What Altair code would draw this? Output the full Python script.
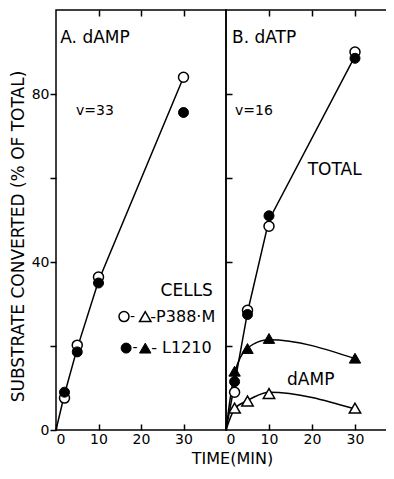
import altair as alt
import pandas as pd

# ---- data ----
time = [2, 5, 10, 30]
line_time = [0, 2, 5, 10, 30]

# Panel A: dAMP substrate
a_p388 = [7.6, 20.2, 36.4, 84.0]
a_l1210 = [9.0, 18.6, 35.0, 75.6]
a_fit = [0, 8.5, 19.5, 35.5, 84.0]

# Panel B: dATP substrate
b_total_p388 = [9.0, 28.5, 48.5, 90.0]
b_total_l1210 = [11.5, 27.5, 51.0, 88.5]
b_damp_p388 = [5.2, 6.9, 8.7, 5.2]
b_damp_l1210 = [14.0, 19.4, 21.8, 17.1]
b_total_fit = [0, 11.0, 28.0, 50.0, 89.0]
b_damp_l1210_fit = [0, 13.5, 19.5, 21.5, 17.0]
b_damp_p388_fit = [0, 5.0, 7.0, 9.0, 5.0]

x_ticks = [0, 10, 20, 30]
x_top_ticks = [10, 20, 30]
y_ticks = [0, 20, 40, 60, 80]
y_inner_ticks = [20, 40, 60, 80]

FONT = "DejaVu Sans"

xA = alt.Scale(domain=[0, 40], nice=False, zero=False)
xB = alt.Scale(domain=[0, 40], nice=False, zero=False)
yS = alt.Scale(domain=[0, 100], nice=False, zero=False)


def df(t, v):
    return pd.DataFrame({"t": t, "v": v})


def enc(chart, xs, xaxis=None, yaxis=None):
    return chart.encode(
        x=alt.X("t:Q", scale=xs, axis=xaxis),
        y=alt.Y("v:Q", scale=yS, axis=yaxis),
    )


def line(t, v, xs, interp="linear", xaxis=None, yaxis=None):
    c = alt.Chart(df(t, v)).mark_line(color="black", strokeWidth=1.5, interpolate=interp)
    return enc(c, xs, xaxis, yaxis)


def marker(t, v, xs, shape, solid, xaxis=None, yaxis=None, size=100):
    if solid:
        m = alt.Chart(df(t, v)).mark_point(shape=shape, filled=True, fill="black",
                                            stroke="black", strokeWidth=1, size=size, opacity=1)
    else:
        m = alt.Chart(df(t, v)).mark_point(shape=shape, filled=True, fill="white",
                                            stroke="black", strokeWidth=1.5, size=size, opacity=1)
    return enc(m, xs, xaxis, yaxis)


def text(t, v, label, xs, size):
    d = pd.DataFrame({"t": [t], "v": [v], "label": [label]})
    c = alt.Chart(d).mark_text(align="left", baseline="middle", font=FONT,
                               fontSize=size, color="black")
    return c.encode(
        x=alt.X("t:Q", scale=xs, axis=None),
        y=alt.Y("v:Q", scale=yS, axis=None),
        text="label:N",
    )


TRI = 130

# ---- axes ----
bottom_A = alt.Axis(orient="bottom", values=x_ticks, tickSize=6, offset=-6, domain=False,
                    labelPadding=2, title=None, format="d")
top_any = alt.Axis(orient="top", values=x_top_ticks, tickSize=6, offset=-6, domain=False,
                   labels=False, title=None)
left_A = alt.Axis(orient="left", values=y_ticks, tickSize=6, domain=False,
                  labelExpr="datum.value % 40 == 0 ? datum.label : ''",
                  labelPadding=1, title="SUBSTRATE CONVERTED (% OF TOTAL)",
                  titleY=226, titlePadding=4)
bottom_B = alt.Axis(orient="bottom", values=x_ticks, tickSize=6, offset=-6, domain=False,
                    labelPadding=2, title="TIME(MIN)", titleX=6, titlePadding=4,
                    titleFontSize=16, format="d")
left_B = alt.Axis(orient="left", values=y_inner_ticks, tickSize=6, offset=-6, domain=False,
                  labels=False, title=None)
right_B = alt.Axis(orient="right", values=y_inner_ticks, tickSize=6, offset=-6, domain=False,
                   labels=False, title=None)

H = 420

# ---- panel A ----
panel_A = alt.layer(
    line(line_time, a_fit, xA, xaxis=bottom_A, yaxis=left_A),
    marker(time, a_p388, xA, "circle", False, xaxis=top_any),
    marker(time, a_l1210, xA, "circle", True),
    text(1.0, 93.4, "A. dAMP", xA, 17),
    text(4.7, 76.0, "v=33", xA, 14),
    text(24.6, 33.0, "CELLS", xA, 17),
    marker([16.0], [27.0], xA, "circle", False),
    text(17.4, 27.0, "-", xA, 14),
    marker([21.0], [27.0], xA, "triangle-up", False, size=TRI),
    text(22.2, 27.0, "-P388·M", xA, 16),
    marker([16.5], [19.5], xA, "circle", True),
    text(18.0, 19.5, "-", xA, 14),
    marker([21.0], [19.5], xA, "triangle-up", True, size=TRI),
    text(22.4, 19.5, "- L1210", xA, 16),
).resolve_axis(x="independent", y="independent").properties(width=170, height=H)

# ---- panel B ----
panel_B = alt.layer(
    line(line_time, b_total_fit, xB, xaxis=bottom_B, yaxis=left_B),
    line(line_time, b_damp_l1210_fit, xB, interp="monotone", xaxis=top_any, yaxis=right_B),
    line(line_time, b_damp_p388_fit, xB, interp="monotone"),
    marker(time, b_total_p388, xB, "circle", False),
    marker(time, b_total_l1210, xB, "circle", True),
    marker(time, b_damp_p388, xB, "triangle-up", False, size=TRI),
    marker(time, b_damp_l1210, xB, "triangle-up", True, size=TRI),
    text(1.4, 93.4, "B. dATP", xB, 17),
    text(2.1, 76.0, "v=16", xB, 14),
    text(19.0, 61.9, "TOTAL", xB, 17),
    text(14.2, 11.8, "dAMP", xB, 17),
).resolve_axis(x="independent", y="independent").properties(width=172, height=H)

chart = alt.hconcat(panel_A, panel_B, spacing=0, bounds="flush").properties(
    autosize=alt.AutoSizeParams(type="none"),
    padding={"left": 48, "top": 2, "right": 330, "bottom": 459},
    background="white",
).configure_view(stroke="black", strokeWidth=1.5).configure_axis(
    grid=False,
    labelFont=FONT,
    labelFontSize=14,
    labelColor="black",
    tickColor="black",
    tickWidth=1.5,
    titleFont=FONT,
    titleFontSize=17,
    titleFontWeight="normal",
    titleColor="black",
)

chart.save("out.html", embed_options={"renderer": "svg", "actions": False})
